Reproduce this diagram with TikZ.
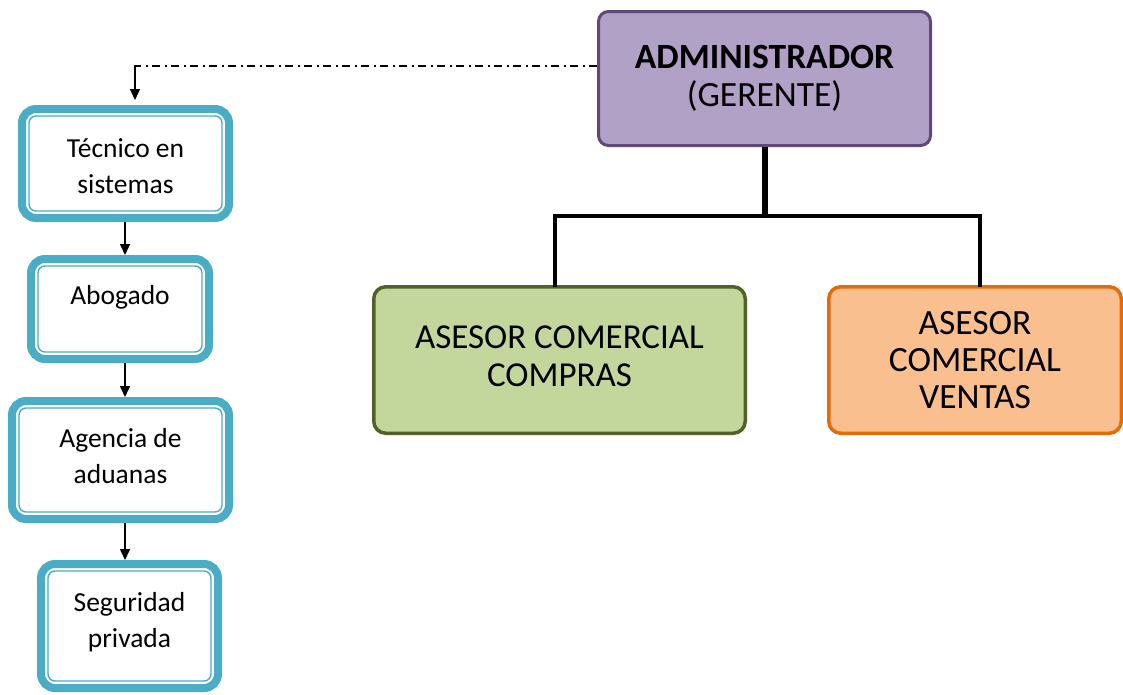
\documentclass[tikz,border=0pt]{standalone}
\usepackage{fontspec}
\setmainfont{Carlito}
\usetikzlibrary{arrows.meta}
\definecolor{boxblue}{HTML}{4BACC6}
\definecolor{admfill}{HTML}{B2A1C7}
\definecolor{admdraw}{HTML}{5F497A}
\definecolor{grnfill}{HTML}{C3D69B}
\definecolor{grndraw}{HTML}{4F6228}
\definecolor{orgfill}{HTML}{FABF8F}
\definecolor{orgdraw}{HTML}{E36C09}
\newcommand\innerbox[1]{\draw[innerline] ([xshift=11pt,yshift=-11pt]#1.north west) rectangle ([xshift=-11pt,yshift=11pt]#1.south east);}
\newcommand\liftby[2]{\raisebox{#1}[\height][\depth]{\begin{tabular}{@{}c@{}}#2\end{tabular}}}
\begin{document}
\begin{tikzpicture}[x=1pt,y=-1pt,
  bluebox/.style={draw=boxblue, line width=8pt, rounded corners=14pt, outer sep=4pt, fill=white, align=center, inner sep=0pt, font=\fontsize{27.5}{36}\selectfont},
  innerline/.style={draw=boxblue, line width=1.4pt, rounded corners=7pt},
  topbox/.style={draw=admdraw, fill=admfill, line width=3pt, rounded corners=10pt, align=center, inner sep=0pt, font=\fontsize{35.5}{38}\selectfont},
  greenbox/.style={draw=grndraw, fill=grnfill, line width=3.5pt, rounded corners=12pt, align=center, inner sep=0pt, font=\fontsize{35}{38}\selectfont},
  orangebox/.style={draw=orgdraw, fill=orgfill, line width=3.5pt, rounded corners=12pt, align=center, inner sep=0pt, font=\fontsize{35.5}{37}\selectfont},
  arr/.style={draw=black, line width=1.5pt, -{Triangle[length=11pt,width=10pt]}},
  dashdot/.style={draw=black, line width=1.5pt, dash pattern=on 8pt off 4.5pt on 2pt off 4.5pt},
  trunk/.style={draw=black, line width=6pt},
  branch/.style={draw=black, line width=4pt}
]
\useasboundingbox (0,0) rectangle (1123,694);

% top box
\node[topbox, minimum width=332pt, minimum height=134pt] (adm) at (764.5,78.5)
  {\textbf{ADMINISTRADOR}\\(GERENTE)};

% advisor boxes
\node[greenbox, minimum width=371.5pt, minimum height=146.5pt] (comp) at (559.5,360)
  {\liftby{0pt}{ASESOR COMERCIAL\\COMPRAS}};
\node[orangebox, minimum width=292.5pt, minimum height=146.5pt] (vent) at (975,360)
  {ASESOR\\COMERCIAL\\VENTAS};

% left column
\node[bluebox, minimum width=207pt, minimum height=109pt] (tec) at (125.5,163.5)
  {\liftby{-4.5pt}{T\'ecnico en\\sistemas}};
\node[bluebox, minimum width=178pt, minimum height=100pt] (abo) at (120,309)
  {\liftby{12pt}{Abogado}};
\node[bluebox, minimum width=217pt, minimum height=118pt] (agd) at (120.5,460)
  {\liftby{2pt}{Agencia de\\aduanas}};
\node[bluebox, minimum width=177pt, minimum height=124pt] (seg) at (129.5,626)
  {\liftby{3.5pt}{Seguridad\\privada}};
\innerbox{tec}
\innerbox{abo}
\innerbox{agd}
\innerbox{seg}

% connectors
\coordinate (jn) at (764.5,216);
\coordinate (ax) at (125,0);
\coordinate (dd) at (135,66);
\draw[trunk] (adm.south) -- (jn);
\draw[branch, line cap=rect] ([xshift=-4.5pt]comp.north) |- (jn) -| ([xshift=5pt]vent.north);

\draw[dashdot] (dd -| adm.west) -- (dd);
\draw[arr] ([yshift=0.75pt]dd) -- ([yshift=5pt]tec.north -| dd);
\draw[arr] (tec.south -| ax) -- (abo.north -| ax);
\draw[arr] (abo.south -| ax) -- (agd.north -| ax);
\draw[arr] (agd.south -| ax) -- (seg.north -| ax);
\end{tikzpicture}
\end{document}
